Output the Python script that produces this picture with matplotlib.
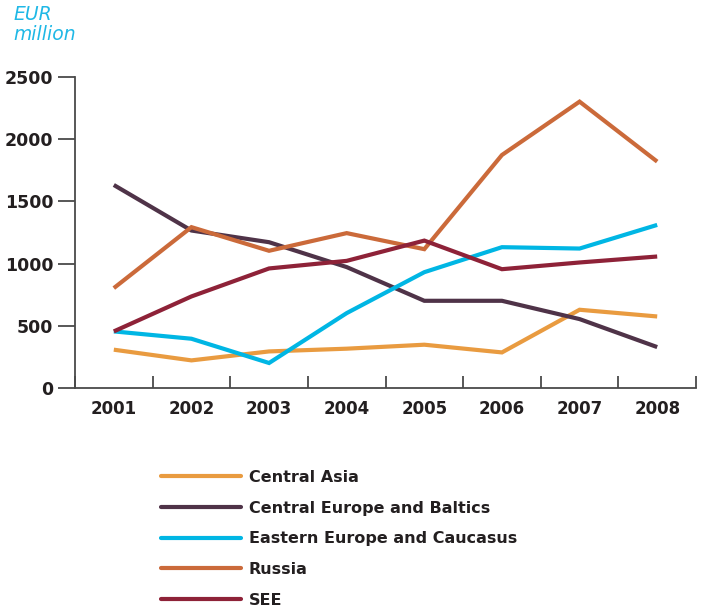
import numpy as np
import matplotlib
matplotlib.use("Agg")
import matplotlib.pyplot as plt

years = ["2001", "2002", "2003", "2004", "2005", "2006", "2007", "2008"]

central_asia = [308, 222, 294, 316, 348, 286, 629, 575]
central_europe_baltics = [1632, 1266, 1172, 972, 701, 701, 554, 329]
eastern_europe_caucasus = [455, 396, 201, 602, 931, 1132, 1121, 1311]
russia = [803, 1293, 1103, 1245, 1116, 1873, 2302, 1820]
see = [455, 736, 961, 1022, 1185, 955, 1009, 1057]

series = [
    ("Central Asia", central_asia, "#E99B40"),
    ("Central Europe and Baltics", central_europe_baltics, "#4F3348"),
    ("Eastern Europe and Caucasus", eastern_europe_caucasus, "#00B6E4"),
    ("Russia", russia, "#CB6A3A"),
    ("SEE", see, "#8E2238"),
]

plt.rcParams['font.family'] = ['DejaVu Sans']

fig = plt.figure(figsize=(7.07, 6.09), dpi=100)
ax = fig.add_axes([75 / 707, 1 - 388 / 609, 621 / 707, 311 / 609])

x = np.arange(len(years))
for name, vals, col in series:
    ax.plot(x, vals, color=col, lw=3, label=name, solid_capstyle='butt',
            solid_joinstyle='miter')

ax.set_xlim(-0.5, len(years) - 0.5)
ax.set_ylim(0, 2500)

spine_col = "#4a4a4a"
for s in ['top', 'right']:
    ax.spines[s].set_visible(False)
for s in ['left', 'bottom']:
    ax.spines[s].set_color(spine_col)
    ax.spines[s].set_linewidth(1.3)

ax.set_yticks([0, 500, 1000, 1500, 2000, 2500])
ax.tick_params(axis='y', direction='out', length=12, width=1.3, color=spine_col,
               labelsize=12.5, pad=3.5, labelcolor="#231f20")
for lab in ax.get_yticklabels():
    lab.set_fontweight('bold')

# x ticks sit between the categories; labels go at the centres
ax.set_xticks(np.arange(-0.5, len(years)), minor=False)
ax.set_xticklabels([])
ax.set_xticks(x, minor=True)
ax.set_xticklabels(years, minor=True, fontweight='bold')
ax.tick_params(axis='x', which='major', direction='in', length=9, width=1.3,
               color=spine_col)
ax.tick_params(axis='x', which='minor', length=0, labelsize=12, pad=9,
               labelcolor="#231f20")

fig.text(13 / 707, 1 - 5 / 609, "EUR\nmillion", color="#1FB8E6", fontsize=13.5,
         fontstyle='italic', va='top', ha='left', linespacing=1.1)

leg = fig.legend(loc='upper left', bbox_to_anchor=(161 / 707, 1 - 470 / 609),
                 frameon=False, fontsize=11.5, handlelength=5.0, handletextpad=0.5,
                 labelspacing=0.98, borderaxespad=0, borderpad=0)
for t in leg.get_texts():
    t.set_fontweight('bold')
    t.set_color("#231f20")
for h in leg.get_lines():
    h.set_solid_capstyle('round')

fig.savefig("out.png", dpi=100)
